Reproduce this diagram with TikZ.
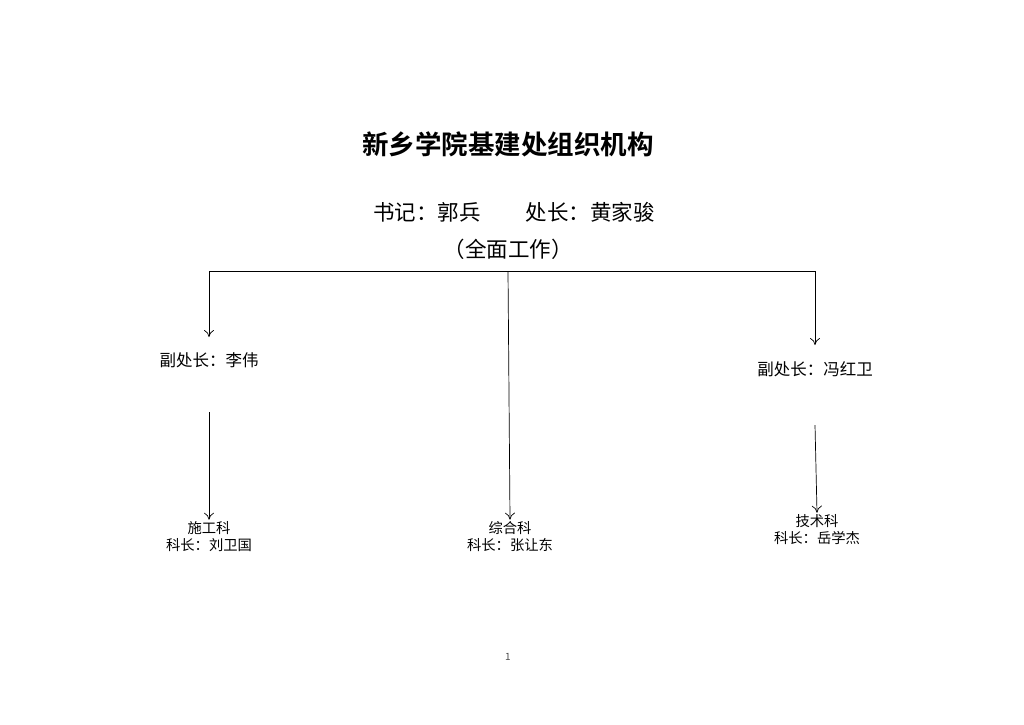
\documentclass[tikz,border=0pt]{standalone}
\usepackage{fontspec}
\newfontfamily\cjk{Noto Sans CJK SC}
\newfontfamily\cjkb{Noto Sans CJK SC Bold}
\usetikzlibrary{positioning,arrows.meta}
\tikzset{
  lbl/.style={font=\cjk\fontsize{14.3}{17}\selectfont, align=center, inner sep=2pt},
  fulbl/.style={font=\cjk\fontsize{16.5}{19}\selectfont, inner sep=1pt},
  conn/.style={draw=black, line width=0.7pt, -{To[length=7pt,width=10pt,line width=0.7pt]}}
}
\begin{document}
\begin{tikzpicture}[x=1pt,y=-1pt]
\useasboundingbox (0,0) rectangle (1024,724);

\node [font=\cjkb\fontsize{26.5}{30}\selectfont] (title) at (508,144) {新乡学院基建处组织机构};
\node [font=\cjk\fontsize{21.5}{24}\selectfont] (shuji) at (427,212) {书记：郭兵};
\node [font=\cjk\fontsize{21.5}{24}\selectfont] (chuzhang) at (590,212) {处长：黄家骏};
\node [font=\cjk\fontsize{21.5}{24}\selectfont] (quanmian) at (508,249) {（全面工作）};

% trunk
\coordinate (tl) at (209,271);
\coordinate (tm) at (508,271);
\coordinate (tr) at (815,271);
\draw [draw=black, line width=0.7pt] (tl) -- (tr);

\node [fulbl] (fuL) at (209,360) {副处长：李伟};
\node [fulbl] (fuR) at (815,369) {副处长：冯红卫};
\node [lbl] (shigong) at (209,537) {施工科\\科长：刘卫国};
\node [lbl] (zonghe) at (510,537) {综合科\\科长：张让东};
\node [lbl] (jishu) at (817,530) {技术科\\科长：岳学杰};

\draw [conn] (tl) -- (209,337);
\draw [conn] (tr) -- (815,345);
\draw [conn] (tm) -- (zonghe.north);
\coordinate (l2) at (209,412);
\coordinate (r2) at (815,425);
\draw [conn] (l2) -- (shigong.north);
\draw [conn] (r2) -- (jishu.north);

\node [font=\cjk\fontsize{10}{12}\selectfont, text=black!70] (page) at (508,657) {1};
\end{tikzpicture}
\end{document}
